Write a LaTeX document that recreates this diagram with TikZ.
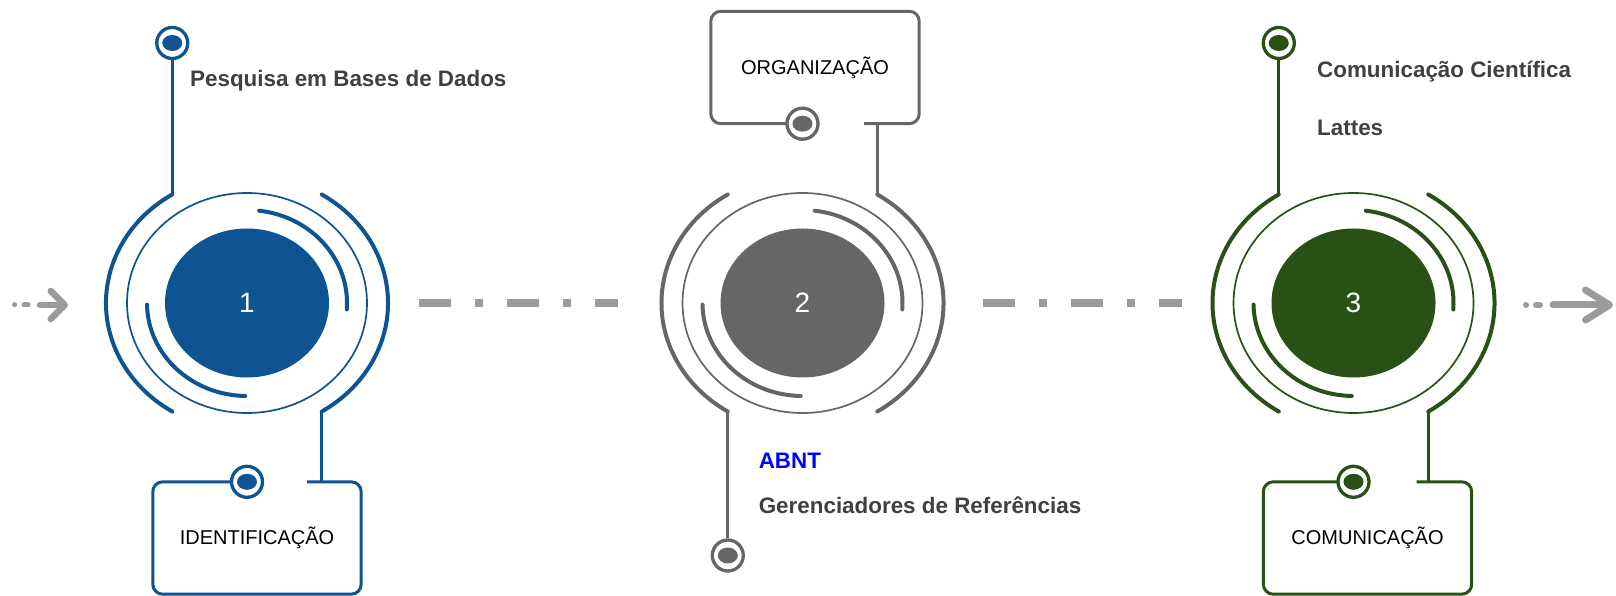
\documentclass[tikz,border=0pt]{standalone}
\usepackage{fontspec}
\setmainfont{Liberation Sans}
\usetikzlibrary{arrows.meta, shapes.geometric, calc}

\definecolor{blueS}{RGB}{14,83,146}
\definecolor{grayS}{RGB}{102,102,102}
\definecolor{greenS}{RGB}{42,81,21}
\definecolor{flowgray}{RGB}{155,155,155}
\definecolor{textgray}{RGB}{64,64,64}

\begin{document}
\begin{tikzpicture}[
    x=1pt, y=1pt,
    core/.style = {ellipse, inner sep=0pt, minimum width=164pt, minimum height=149pt, text=white, font=\fontsize{28}{30}\selectfont},
    ringline/.style = {line width=1.7pt},
    arcline/.style = {line width=4pt, line cap=round},
    link/.style = {line width=3.3pt},
    dotpin/.style = {circle, draw=#1, fill=white, line width=3.3pt, minimum size=31pt, inner sep=0pt, path picture={\fill[#1] (path picture bounding box.center) ellipse [x radius=10pt, y radius=8pt];}},
    stepbox/.style = {rectangle, minimum width=208pt, minimum height=112pt, font=\fontsize{20}{24}\selectfont},
    boxline/.style = {line width=3pt, rounded corners=10pt},
    note/.style = {inner sep=0pt, anchor=base west, text=textgray, font=\bfseries\fontsize{22.4}{27}\selectfont},
    flow/.style = {draw=flowgray, line width=8pt, dash pattern=on 32pt off 24pt on 8pt off 24pt},
    arrowline/.style = {draw=flowgray, line width=6.5pt, line cap=round}
]
\useasboundingbox (0,0) rectangle (1616,596);

% =========================================================
% STAGE 1: IDENTIFICACAO
% =========================================================
\node[core, fill=blueS] (c1) at (247,293) {1};
\draw[ringline, blueS] (c1.center) ellipse [x radius=120, y radius=110];
\draw[arcline, blueS] ([shift={(122:141 and 128)}]c1.center) coordinate (c1nw) arc [start angle=122, end angle=238, x radius=141, y radius=128];
\draw[arcline, blueS] ([shift={(58:141 and 128)}]c1.center) arc [start angle=58, end angle=-58, x radius=141, y radius=128] coordinate (c1se);
\draw[arcline, blueS] ([shift={(83:100 and 93)}]c1.center) arc [start angle=83, end angle=-4, x radius=100, y radius=93];
\draw[arcline, blueS] ([shift={(181:100 and 93)}]c1.center) arc [start angle=181, end angle=269, x radius=100, y radius=93];

% top pin and its text
\node[dotpin=blueS] (p1) at (c1nw |- 0,553) {};
\draw[link, blueS] (c1nw) -- (p1);
\node[note] (t1) at (190,509) {Pesquisa em Bases de Dados};

% box below (open between pin and link)
\node[stepbox] (b1) at (257,58) {IDENTIFICAÇÃO};
\draw[boxline, blueS] ([xshift=50pt]b1.north) -- (b1.north east) -- (b1.south east) -- (b1.south west) -- (b1.north west) -- (b1.north);
\draw[link, blueS] (c1se) -- (c1se |- b1.north);
\node[dotpin=blueS] (q1) at (c1.center |- b1.north) {};

% =========================================================
% STAGE 2: ORGANIZACAO
% =========================================================
\node[core, fill=grayS] (c2) at (802.5,293) {2};
\draw[ringline, grayS] (c2.center) ellipse [x radius=120, y radius=110];
\draw[arcline, grayS] ([shift={(122:141 and 128)}]c2.center) arc [start angle=122, end angle=238, x radius=141, y radius=128] coordinate (c2sw);
\draw[arcline, grayS] ([shift={(58:141 and 128)}]c2.center) coordinate (c2ne) arc [start angle=58, end angle=-58, x radius=141, y radius=128];
\draw[arcline, grayS] ([shift={(83:100 and 93)}]c2.center) arc [start angle=83, end angle=-4, x radius=100, y radius=93];
\draw[arcline, grayS] ([shift={(181:100 and 93)}]c2.center) arc [start angle=181, end angle=269, x radius=100, y radius=93];

% box above (open between pin and link)
\node[stepbox] (b2) at (815,528.5) {ORGANIZAÇÃO};
\draw[boxline, grayS] ([xshift=49pt]b2.south) -- (b2.south east) -- (b2.north east) -- (b2.north west) -- (b2.south west) -- (b2.south);
\draw[link, grayS] (c2ne) -- (c2ne |- b2.south);
\node[dotpin=grayS] (q2) at (c2.center |- b2.south) {};

% bottom pin and its texts
\node[dotpin=grayS] (p2) at (c2sw |- 0,40.5) {};
\draw[link, grayS] (c2sw) -- (p2);
\node[note, text=blue] (t2a) at (758.6,127.7) {ABNT};
\node[note] (t2b) at (758.6,82) {Gerenciadores de Referências};

% =========================================================
% STAGE 3: COMUNICACAO
% =========================================================
\node[core, fill=greenS] (c3) at (1353.5,293) {3};
\draw[ringline, greenS] (c3.center) ellipse [x radius=120, y radius=110];
\draw[arcline, greenS] ([shift={(122:141 and 128)}]c3.center) coordinate (c3nw) arc [start angle=122, end angle=238, x radius=141, y radius=128];
\draw[arcline, greenS] ([shift={(58:141 and 128)}]c3.center) arc [start angle=58, end angle=-58, x radius=141, y radius=128] coordinate (c3se);
\draw[arcline, greenS] ([shift={(83:100 and 93)}]c3.center) arc [start angle=83, end angle=-4, x radius=100, y radius=93];
\draw[arcline, greenS] ([shift={(181:100 and 93)}]c3.center) arc [start angle=181, end angle=269, x radius=100, y radius=93];

% top pin and its texts
\node[dotpin=greenS] (p3) at (c3nw |- 0,553) {};
\draw[link, greenS] (c3nw) -- (p3);
\node[note] (t3a) at (1317,518) {Comunicação Científica};
\node[note] (t3b) at (1317,460) {Lattes};

% box below (open between pin and link)
\node[stepbox] (b3) at (1367.5,58) {COMUNICAÇÃO};
\draw[boxline, greenS] ([xshift=49pt]b3.north) -- (b3.north east) -- (b3.south east) -- (b3.south west) -- (b3.north west) -- (b3.north);
\draw[link, greenS] (c3se) -- (c3se |- b3.north);
\node[dotpin=greenS] (q3) at (c3.center |- b3.north) {};

% =========================================================
% FLOW BETWEEN STAGES
% =========================================================
\draw[flow] ([xshift=90pt]c1.east) -- ([xshift=-102pt]c2.west);
\draw[flow] ([xshift=98pt]c2.east) -- ([xshift=-89pt]c3.west);

% entry and exit arrows
\coordinate (entry) at (12,291);
\coordinate (exit) at (1613,291);
\draw[arrowline, line width=5pt] ([xshift=2.5pt]entry) -- ++(0.1,0) ([xshift=12pt]entry) -- ++(4,0);
\draw[arrowline, -{Straight Barb[round, length=14pt, width=28pt]}] ([xshift=28pt]entry) -- ([xshift=56pt]entry);
\draw[arrowline, line width=6pt] ([xshift=-87pt]exit) -- ++(0.1,0) ([xshift=-77pt]exit) -- ++(4,0);
\draw[arrowline, line width=7pt, -{Straight Barb[round, length=24pt, width=30pt]}] ([xshift=-60pt]exit) -- (exit);

\end{tikzpicture}
\end{document}
